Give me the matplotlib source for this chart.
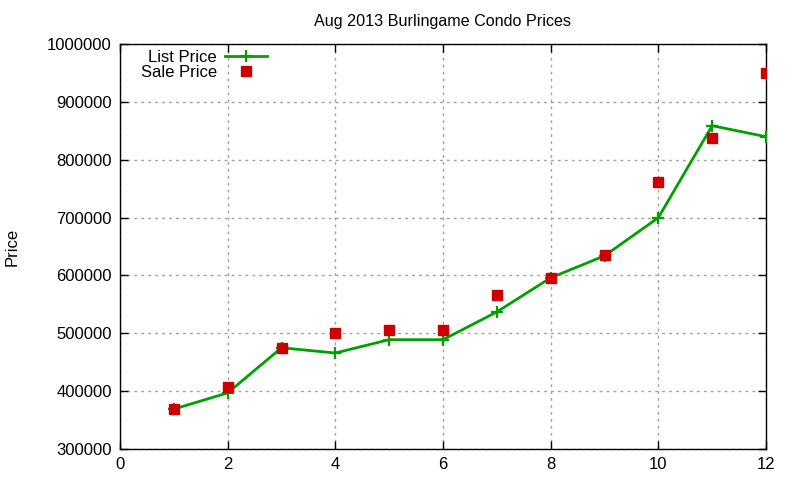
import matplotlib
matplotlib.use("Agg")
import matplotlib.pyplot as plt

months = [1, 2, 3, 4, 5, 6, 7, 8, 9, 10, 11, 12]
list_price = [369000, 397000, 475000, 466000, 489000, 489000, 537000, 596000, 634000, 700000, 859000, 840000]
sale_price = [370000, 408000, 475000, 500000, 505000, 505000, 567000, 596000, 636000, 762000, 838000, 950000]
x_ticks = [0, 2, 4, 6, 8, 10, 12]
y_ticks = [300000, 400000, 500000, 600000, 700000, 800000, 900000, 1000000]

plt.rcParams['font.family'] = ['Liberation Sans', 'DejaVu Sans']

fig = plt.figure(figsize=(8, 4.8), dpi=100)
ax = fig.add_axes([0.15, 0.0646, 0.8075, 0.8434])

ax.plot(months, list_price, color='#00a000', linewidth=2, marker='+',
        markersize=8, markeredgewidth=1.6, label='List Price', zorder=3)
ax.plot(months, sale_price, linestyle='none', marker='s', color='#cc0000',
        markersize=6.5, label='Sale Price', zorder=4)

ax.set_xlim(0, 12)
ax.set_ylim(300000, 1000000)
ax.set_xticks(x_ticks)
ax.set_yticks(y_ticks)
ax.set_xticklabels([str(t) for t in x_ticks], fontsize=12)
ax.set_yticklabels([str(t) for t in y_ticks], fontsize=12)
ax.tick_params(direction='in', top=True, right=True, length=6, width=1, pad=6)
ax.grid(True, color='#a0a0a0', linestyle=(0, (2, 3)), linewidth=1)
for s in ax.spines.values():
    s.set_linewidth(1)

ax.set_title('Aug 2013 Burlingame Condo Prices', fontsize=11.6, pad=13)
ax.set_ylabel('Price', fontsize=12, labelpad=20)

leg = fig.legend(loc='upper right', bbox_to_anchor=(267 / 800, 1 - 50 / 480),
                 frameon=False, markerfirst=False, fontsize=12, handlelength=2.5,
                 handletextpad=0.5, labelspacing=0.0, borderaxespad=0.0, borderpad=0.0)
for t in leg.get_texts():
    t.set_ha('right')

fig.savefig('out.png', dpi=100)
